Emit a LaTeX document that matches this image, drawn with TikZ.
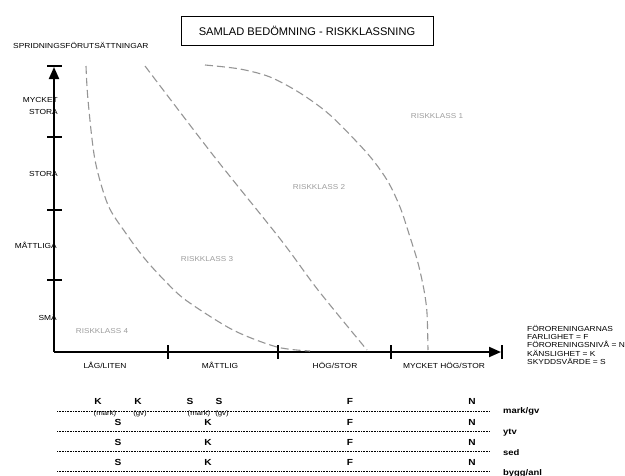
\documentclass[tikz,border=0pt]{standalone}
\usepackage{fontspec}
\setmainfont{Liberation Sans}
\newfontfamily\widesans[FakeStretch=1.15]{Liberation Sans}
\usepackage{xcolor}
\usetikzlibrary{arrows.meta, positioning}
\definecolor{InkBlack}{HTML}{000000}
\definecolor{CurveGray}{HTML}{959595}
\definecolor{ClassGray}{HTML}{9C9C9C}

\begin{document}
\begin{tikzpicture}[x=1pt, y=-1pt,
  titlebox/.style={rectangle, draw=InkBlack, line width=1pt, minimum width=252pt,
    minimum height=29pt, inner sep=0pt, font=\fontsize{11.1}{12}\selectfont},
  axlabel/.style={inner sep=0pt, font=\widesans\fontsize{7.3}{8}\selectfont},
  axis/.style={line width=2pt, InkBlack, -{Triangle[length=12pt, width=10pt]}},
  axtick/.style={line width=1.6pt, InkBlack},
  border/.style={dash pattern=on 8pt off 4pt, line width=1.1pt, CurveGray},
  classlabel/.style={inner sep=0pt, text=ClassGray, font=\widesans\fontsize{7.1}{8}\selectfont},
  legend/.style={inner sep=0pt, anchor=north west, align=left,
    font=\widesans\fontsize{7.3}{8.3}\selectfont},
  entry/.style={inner sep=0pt, font=\widesans\bfseries\fontsize{8.8}{9}\selectfont},
  subentry/.style={inner sep=0pt, font=\widesans\fontsize{6.8}{7}\selectfont},
  medium/.style={inner sep=0pt, anchor=west, font=\widesans\bfseries\fontsize{8.2}{9}\selectfont},
  rowline/.style={densely dotted, line width=0.6pt, InkBlack}
]

\useasboundingbox (0,0) rectangle (625,475);

% Title
\node[titlebox] (title) at (307,30.5) {SAMLAD BEDÖMNING - RISKKLASSNING};
\node[axlabel, anchor=west] (yname) at (13,45) {SPRIDNINGSFÖRUTSÄTTNINGAR};

% Axes
\coordinate (origin) at (54,352);
\coordinate (ytop)   at (54,67);
\coordinate (xend)   at (501,352);
\draw[axis] (origin) -- (ytop);
\draw[axis] (origin) -- (xend);

\draw[axtick] (47,66)  -- (62,66);
\draw[axtick] (47,137) -- (62,137);
\draw[axtick] (47,210) -- (62,210);
\draw[axtick] (47,280) -- (62,280);
\draw[axtick] (168,345) -- (168,359);
\draw[axtick] (278,345) -- (278,359);
\draw[axtick] (391,345) -- (391,359);
\draw[axtick] (502,345) -- (502,359);

% Axis labels
\node[axlabel, anchor=east, align=right, font=\widesans\fontsize{7.3}{12}\selectfont]
  (ymycket) at (58,106) {MYCKET\\STORA};
\node[axlabel, anchor=east] (ystora) at (58,174) {STORA};
\node[axlabel, anchor=east] (ymatt)  at (57,245) {MÅTTLIGA};
\node[axlabel, anchor=east] (ysma)   at (57,317) {SMÅ};

\node[axlabel] (xlag)    at (105,365) {LÅG/LITEN};
\node[axlabel] (xmatt)   at (220,365) {MÅTTLIG};
\node[axlabel] (xhog)    at (335,365) {HÖG/STOR};
\node[axlabel] (xmycket) at (444,365) {MYCKET HÖG/STOR};

\node[legend] (legend) at (527,325)
  {FÖRORENINGARNAS\\FARLIGHET = F\\FÖRORENINGSNIVÅ = N\\KÄNSLIGHET = K\\SKYDDSVÄRDE = S};

% Class borders
\draw[border] plot[smooth] coordinates {(86,66) (88,100) (95,160) (108,205) (125,232)
  (145,259) (167,283) (187,301) (233,330) (277,347) (310,351)};
\draw[border] plot[smooth] coordinates {(145,66) (213,155) (281,240) (318,290) (367,350)};
\draw[border] plot[smooth] coordinates {(205,65) (240,69) (270,77) (300,93) (330,115)
  (367,153) (387,180) (400,207) (410,237) (418,263) (424,290) (427,313) (428,350)};

\node[classlabel] (class1) at (437,116) {RISKKLASS 1};
\node[classlabel] (class2) at (319,187) {RISKKLASS 2};
\node[classlabel] (class3) at (207,259) {RISKKLASS 3};
\node[classlabel] (class4) at (102,331) {RISKKLASS 4};

% Table
\draw[rowline] (57,411) -- (490,411);
\draw[rowline] (57,431) -- (490,431);
\draw[rowline] (57,451) -- (490,451);
\draw[rowline] (57,471) -- (490,471);

\node[entry] (mk)   at (98,401)  {K};
\node[entry] (gk)   at (138,401) {K};
\node[entry] (ms)   at (190,401) {S};
\node[entry] (gs)   at (219,401) {S};
\node[entry] (mf)   at (350,401) {F};
\node[entry] (mn)   at (472,401) {N};
\node[subentry] (mkmark) at (105,414) {(mark)};
\node[subentry] (gkgv)   at (140,414) {(gv)};
\node[subentry] (msmark) at (199,414) {(mark)};
\node[subentry] (gsgv)   at (222,414) {(gv)};

\node[entry] (ys) at (118,422) {S};
\node[entry] (yk) at (208,422) {K};
\node[entry] (yf) at (350,422) {F};
\node[entry] (yn) at (472,422) {N};

\node[entry] (ss) at (118,442) {S};
\node[entry] (sk) at (208,442) {K};
\node[entry] (sf) at (350,442) {F};
\node[entry] (sn) at (472,442) {N};

\node[entry] (bs) at (118,462) {S};
\node[entry] (bk) at (208,462) {K};
\node[entry] (bf) at (350,462) {F};
\node[entry] (bn) at (472,462) {N};

\node[medium] (markgv) at (503,411) {mark/gv};
\node[medium] (ytv)    at (503,433) {ytv};
\node[medium] (sed)    at (503,453) {sed};
\node[medium] (bygg)   at (503,473) {bygg/anl};

\end{tikzpicture}
\end{document}
